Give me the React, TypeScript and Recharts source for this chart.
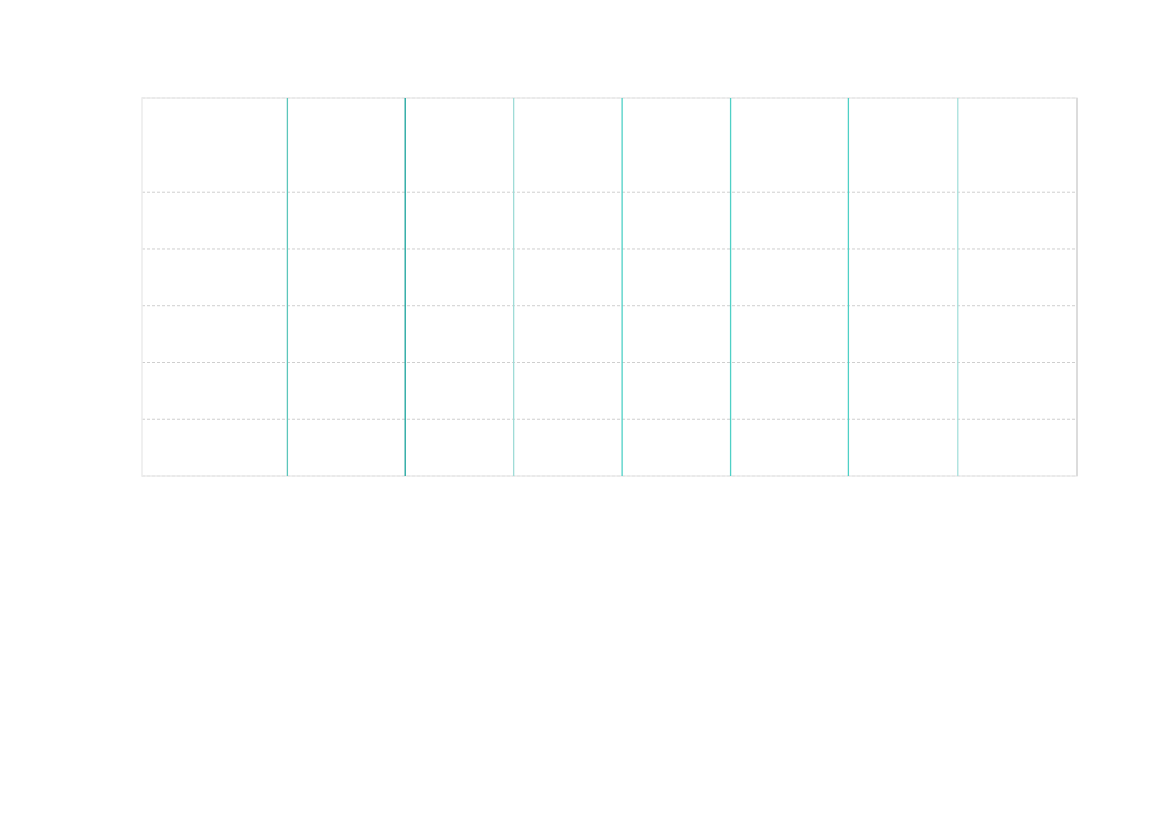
import React from 'react';
import { ComposedChart, XAxis, YAxis, CartesianGrid, ReferenceLine, ReferenceArea } from 'recharts';

// vertical markers: position on the x scale (0-100) and colour
const markerPositions = [15.55, 28.15, 39.75, 51.35, 62.95, 75.55, 87.25];
const markerColors = ['#5cc6bb', '#18a39c', '#9fdcd7', '#4fd0c6', '#4fd0c6', '#4fd0c6', '#a6e0dc'];

// horizontal dashed grid ticks on the y scale (the baseline is the frame)
const yTicks = [1, 2, 3, 4, 5];
const yMax = 6.66;
const xDomain = [0, 100];

const markers = markerPositions.map((x, i) => ({ x, color: markerColors[i] }));

export default function App() {
  return (
    <div style={{ width: 1100, height: 520 }}>
      <ComposedChart width={1100} height={520} data={[]}
        margin={{ top: 90, right: 31, bottom: 52, left: 134 }}>
        <XAxis type="number" dataKey="x" domain={xDomain} hide />
        <YAxis type="number" domain={[0, yMax]} ticks={yTicks} hide />
        <CartesianGrid vertical={false} stroke="#cfcfcf" strokeDasharray="3 2" />
        {/* plot frame */}
        <ReferenceArea x1={xDomain[0]} x2={xDomain[1]} y1={0} y2={yMax}
          fill="none" stroke="#ebebeb" strokeWidth={1.5} ifOverflow="extendDomain" />
        <ReferenceLine x={xDomain[1]} stroke="#dcdcdc" strokeWidth={2} />
        {markers.map((m, i) => (
          <ReferenceLine key={i} x={m.x} stroke={m.color} strokeWidth={1.3} />
        ))}
      </ComposedChart>
    </div>
  );
}
